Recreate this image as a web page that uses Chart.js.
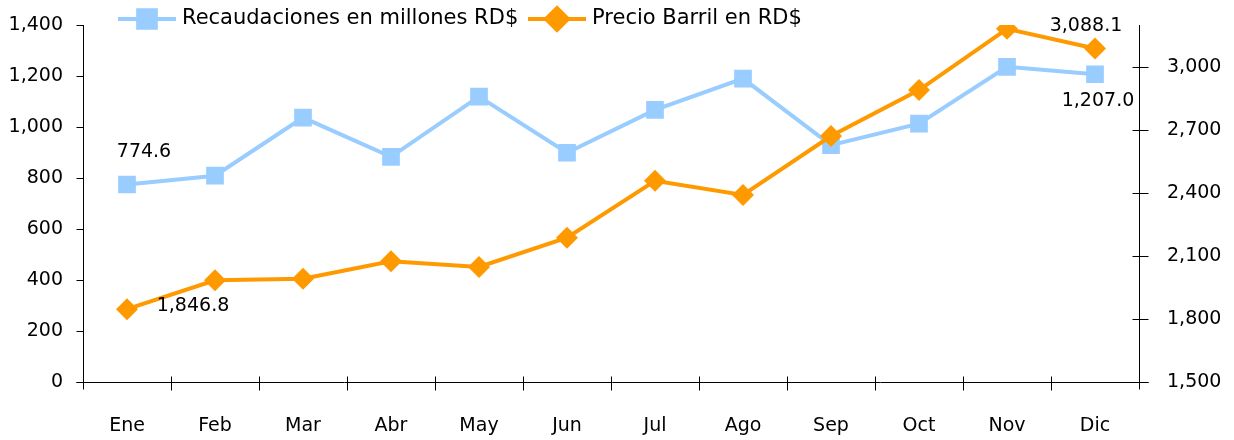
<!DOCTYPE html>
<html>
<head>
<meta charset="utf-8">
<script src="https://cdn.jsdelivr.net/npm/chart.js@4.4.1/dist/chart.umd.min.js"></script>
<style>
  html, body { margin: 0; padding: 0; background: #fff; }
  #wrap { width: 1234px; height: 440px; position: relative; }
</style>
</head>
<body>
<div id="wrap"><canvas id="chart"></canvas></div>
<script>
const months = ['Ene', 'Feb', 'Mar', 'Abr', 'May', 'Jun', 'Jul', 'Ago', 'Sep', 'Oct', 'Nov', 'Dic'];
const recaudaciones = [774.6, 809, 1037, 883, 1119, 899, 1067, 1190, 929, 1013, 1236, 1207.0];
const precioBarril = [1846.8, 1984, 1992, 2075, 2048, 2187, 2458, 2391, 2671, 2890, 3182, 3088.1];
const leftTicks = [0, 200, 400, 600, 800, 1000, 1200, 1400];
const rightTicks = [1500, 1800, 2100, 2400, 2700, 3000];

const FONT = 'DejaVu Sans';
const BLUE = '#99ccff';
const ORANGE = '#ff9900';

const fmt = (v, d) => Number(v).toLocaleString('en-US', { minimumFractionDigits: d, maximumFractionDigits: d });

// fixed axis widths; drop the label overhang padding so the plot reaches the top
const fixWidth = w => s => {
  s.width = w;
  s.paddingTop = 0;
  s.paddingBottom = 0;
};

// axis lines and tick marks (ticks cross the right and bottom axes)
const axisMarks = {
  id: 'axisMarks',
  beforeDatasetsDraw(chart) {
    const { ctx, chartArea: a, scales } = chart;
    const L = Math.round(a.left) + 0.5;
    const R = Math.round(a.right) + 0.5;
    const B = Math.round(a.bottom) + 0.5;
    ctx.save();
    ctx.strokeStyle = '#000';
    ctx.lineWidth = 1;
    ctx.beginPath();
    ctx.moveTo(L, a.top); ctx.lineTo(L, B + 7);
    scales.y.ticks.forEach((t, i) => {
      const py = Math.round(scales.y.getPixelForTick(i)) + 0.5;
      ctx.moveTo(L - 7, py); ctx.lineTo(L, py);
    });
    ctx.moveTo(R, a.top); ctx.lineTo(R, B + 7);
    scales.y1.ticks.forEach((t, i) => {
      const py = Math.round(scales.y1.getPixelForTick(i)) + 0.5;
      ctx.moveTo(R - 7, py); ctx.lineTo(R + 9, py);
    });
    ctx.moveTo(L - 7, B); ctx.lineTo(R + 9, B);
    for (let i = 1; i < months.length; i++) {
      const px = Math.round((scales.x.getPixelForTick(i - 1) + scales.x.getPixelForTick(i)) / 2) + 0.5;
      ctx.moveTo(px, B - 6); ctx.lineTo(px, B + 8);
    }
    ctx.stroke();
    ctx.restore();
  }
};

// legend with a line sample and marker, as in spreadsheet charts
const lineLegend = {
  id: 'lineLegend',
  afterDraw(chart) {
    const ctx = chart.ctx;
    const y = 19;
    const starts = [118, 528];
    ctx.save();
    chart.data.datasets.forEach((ds, i) => {
      const x0 = starts[i];
      ctx.strokeStyle = ds.borderColor;
      ctx.lineWidth = ds.borderWidth;
      ctx.beginPath();
      ctx.moveTo(x0, y); ctx.lineTo(x0 + 58, y);
      ctx.stroke();
      ctx.fillStyle = ds.pointBackgroundColor;
      ctx.strokeStyle = ds.pointBackgroundColor;
      Chart.helpers.drawPoint(ctx, { pointStyle: ds.pointStyle, radius: ds.pointRadius, rotation: 0, borderWidth: 1 }, x0 + 29, y);
      ctx.fillStyle = '#000';
      ctx.font = '21px "' + FONT + '"';
      ctx.textBaseline = 'middle';
      ctx.textAlign = 'left';
      ctx.fillText(ds.label, x0 + 64, y);
    });
    ctx.restore();
  }
};

// value labels for the first and last month of each series
const endLabels = {
  id: 'endLabels',
  afterDatasetsDraw(chart) {
    const ctx = chart.ctx;
    const spots = [
      { ds: 0, i: 0, dx: 17, dy: -32, d: 1 },
      { ds: 0, i: 11, dx: 3, dy: 27, d: 1 },
      { ds: 1, i: 0, dx: 66, dy: -3, d: 1 },
      { ds: 1, i: 11, dx: -9, dy: -22, d: 1 }
    ];
    ctx.save();
    ctx.fillStyle = '#000';
    ctx.font = '19px "' + FONT + '"';
    ctx.textAlign = 'center';
    ctx.textBaseline = 'middle';
    spots.forEach(s => {
      const pt = chart.getDatasetMeta(s.ds).data[s.i];
      const v = chart.data.datasets[s.ds].data[s.i];
      ctx.fillText(fmt(v, s.d), pt.x + s.dx, pt.y + s.dy);
    });
    ctx.restore();
  }
};

new Chart(document.getElementById('chart'), {
  type: 'line',
  data: {
    labels: months,
    datasets: [
      {
        label: 'Recaudaciones en millones RD$',
        data: recaudaciones,
        yAxisID: 'y',
        borderColor: BLUE,
        backgroundColor: BLUE,
        pointBackgroundColor: BLUE,
        pointBorderColor: BLUE,
        borderWidth: 4,
        pointStyle: 'rect',
        pointRadius: 12.5,
        pointBorderWidth: 0,
        tension: 0,
        order: 1
      },
      {
        label: 'Precio Barril en RD$',
        data: precioBarril,
        yAxisID: 'y1',
        borderColor: ORANGE,
        backgroundColor: ORANGE,
        pointBackgroundColor: ORANGE,
        pointBorderColor: ORANGE,
        borderWidth: 4,
        pointStyle: 'rectRot',
        pointRadius: 11,
        pointBorderWidth: 0,
        tension: 0,
        order: 0
      }
    ]
  },
  options: {
    responsive: true,
    maintainAspectRatio: false,
    animation: false,
    layout: { padding: { top: 25, left: 0, right: 0, bottom: 0 } },
    plugins: {
      legend: { display: false },
      tooltip: { enabled: false }
    },
    scales: {
      x: {
        offset: true,
        grid: { display: false, drawTicks: false },
        border: { display: false },
        ticks: { color: '#000', font: { family: FONT, size: 19 }, padding: 33, maxRotation: 0 },
        afterFit: s => { s.height = 58; }
      },
      y: {
        position: 'left',
        min: 0,
        max: 1400,
        grid: { display: false, drawTicks: false },
        border: { display: false },
        afterBuildTicks: s => { s.ticks = leftTicks.map(v => ({ value: v })); },
        ticks: { color: '#000', font: { family: FONT, size: 19 }, padding: 20, callback: v => fmt(v, 0) },
        afterFit: fixWidth(83)
      },
      y1: {
        position: 'right',
        min: 1500,
        max: 3200,
        grid: { display: false, drawTicks: false },
        border: { display: false },
        afterBuildTicks: s => { s.ticks = rightTicks.map(v => ({ value: v })); },
        ticks: { color: '#000', font: { family: FONT, size: 19 }, padding: 28, callback: v => fmt(v, 0) },
        afterFit: fixWidth(95)
      }
    }
  },
  plugins: [axisMarks, lineLegend, endLabels]
});
</script>
</body>
</html>
